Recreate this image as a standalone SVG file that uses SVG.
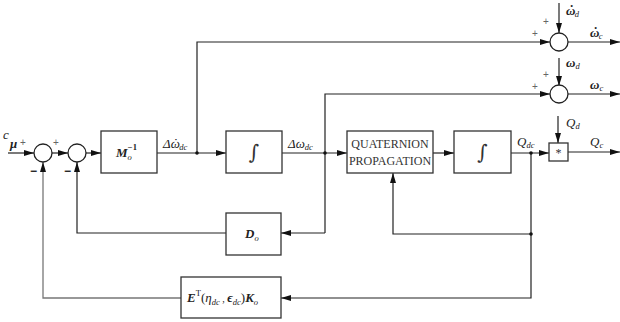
<svg xmlns="http://www.w3.org/2000/svg" width="620" height="322" viewBox="0 0 620 322">
<style>
.blk{fill:#fff;stroke:#333;stroke-width:1.3}
.sum{fill:#fff;stroke:#222;stroke-width:1.3}
.w{fill:none;stroke:#222;stroke-width:1.2}
.wg{fill:none;stroke:#777;stroke-width:1.3}
.t{font-family:"Liberation Serif","DejaVu Serif",serif;font-size:13px;font-style:italic;fill:#222}
.tb{font-family:"Liberation Serif","DejaVu Serif",serif;font-size:13px;font-style:italic;font-weight:bold;fill:#222}
.s{font-size:8.5px}
.up{font-family:"Liberation Serif",serif;font-size:12px;fill:#333}
.pm{font-family:"Liberation Sans",sans-serif;font-size:10px;fill:#666}
.mn{font-family:"Liberation Sans",sans-serif;font-size:12px;font-weight:bold;fill:#222}
.int{font-family:"DejaVu Serif",serif;font-size:20px;fill:#333}
</style>
<defs>
<marker id="a" viewBox="0 0 10 6" refX="10" refY="3" markerWidth="10" markerHeight="6" markerUnits="userSpaceOnUse" orient="auto">
<path d="M0,0 L10,3 L0,6 Z" fill="#111"/>
</marker>
</defs>
<g id="connectors">
<path class="w" d="M8,153 H34" marker-end="url(#a)"/>
<path class="w" d="M52,153 H68" marker-end="url(#a)"/>
<path class="w" d="M86,153 H101" marker-end="url(#a)"/>
<path class="w" d="M157,153 H226" marker-end="url(#a)"/>
<path class="w" d="M197,153 V42 H550" marker-end="url(#a)"/>
<path class="w" d="M282,153 H347" marker-end="url(#a)"/>
<path class="w" d="M325,233 V94 H550" marker-end="url(#a)"/>
<path class="w" d="M325,233 H281" marker-end="url(#a)"/>
<path class="w" d="M226,233 H77 V162" marker-end="url(#a)"/>
<path class="w" d="M433,153 H454" marker-end="url(#a)"/>
<path class="w" d="M511,153 H549" marker-end="url(#a)"/>
<path class="w" d="M531,153 V298 H281" marker-end="url(#a)"/>
<path class="w" d="M531,234 H393 V173" marker-end="url(#a)"/>
<path class="wg" d="M181,298 H43 V162" marker-end="url(#a)"/>
<path class="w" d="M559,3 V33" marker-end="url(#a)"/>
<path class="w" d="M568,42 H620" marker-end="url(#a)"/>
<path class="w" d="M559,58 V86" marker-end="url(#a)"/>
<path class="w" d="M568,94 H620" marker-end="url(#a)"/>
<path class="w" d="M558,116 V143" marker-end="url(#a)"/>
<path class="w" d="M568,152 H620" marker-end="url(#a)"/>
<circle cx="197" cy="153" r="1.8" fill="#111"/>
<circle cx="325" cy="153" r="1.8" fill="#111"/>
<circle cx="531" cy="153" r="1.8" fill="#111"/>
<circle cx="531" cy="234" r="1.8" fill="#111"/>
</g>
<g id="sum1"><circle class="sum" cx="43" cy="153" r="9"/></g>
<g id="sum2"><circle class="sum" cx="77" cy="153" r="9"/></g>
<g id="sum3"><circle class="sum" cx="559" cy="42" r="9"/></g>
<g id="sum4"><circle class="sum" cx="559" cy="94" r="9"/></g>
<g id="mult"><rect class="blk" x="549" y="143" width="19" height="18"/><text class="up" x="558.5" y="157" text-anchor="middle" font-size="10">*</text></g>
<g id="Minv"><rect class="blk" x="101" y="131" width="56" height="42"/>
<text class="tb" x="116" y="157">M<tspan class="s" dy="3" font-weight="normal">o</tspan><tspan class="s" dx="-4" dy="-10" font-style="normal">−1</tspan></text></g>
<g id="int1"><rect class="blk" x="226" y="131" width="56" height="42"/><text class="int" x="254" y="159" text-anchor="middle">∫</text></g>
<g id="quat"><rect class="blk" x="347" y="131" width="86" height="42"/>
<text class="up" x="390" y="148" text-anchor="middle">QUATERNION</text>
<text class="up" x="390" y="165" text-anchor="middle">PROPAGATION</text></g>
<g id="int2"><rect class="blk" x="454" y="131" width="57" height="42"/><text class="int" x="482.5" y="159" text-anchor="middle">∫</text></g>
<g id="Do"><rect class="blk" x="226" y="213" width="55" height="42"/><text class="tb" x="245" y="238">D<tspan class="s" dy="3" font-weight="normal">o</tspan></text></g>
<g id="EK"><rect class="blk" x="181" y="277" width="100" height="41"/>
<text class="tb" x="187" y="302">E<tspan class="s" dy="-6" font-weight="normal" font-style="normal">T</tspan><tspan dy="6" font-weight="normal" font-style="normal">(</tspan><tspan font-weight="normal">η</tspan><tspan class="s" dy="3" font-weight="normal">dc</tspan><tspan dy="-3" font-weight="normal" font-style="normal" font-size="10"> , </tspan>ϵ<tspan class="s" dy="3" font-weight="normal">dc</tspan><tspan dy="-3" font-weight="normal" font-style="normal">)</tspan>K<tspan class="s" dy="3" font-weight="normal">o</tspan></text></g>
<g id="labels">
<text class="t" x="3" y="139" font-size="9" font-style="normal">c</text>
<text class="tb" x="10" y="148">μ</text>
<text class="pm" x="20" y="146">+</text>
<text class="pm" x="53" y="146">+</text>
<text class="mn" x="30" y="175">−</text>
<text class="mn" x="64" y="175">−</text>
<text class="t" x="163" y="148">Δω<tspan dx="-6" dy="-1" font-style="normal">˙</tspan><tspan class="s" dx="1" dy="3">dc</tspan></text>
<text class="t" x="288" y="148">Δω<tspan class="s" dy="2">dc</tspan></text>
<text class="t" x="517" y="146">Q<tspan class="s" dy="2">dc</tspan></text>
<text class="t" x="566" y="127">Q<tspan class="s" dy="2">d</tspan></text>
<text class="t" x="590" y="146">Q<tspan class="s" dy="2">c</tspan></text>
<text class="tb" x="566" y="15">ω<tspan dx="-6" dy="-1" font-style="normal">˙</tspan><tspan class="s" dx="1" dy="3" font-weight="normal">d</tspan></text>
<text class="pm" x="543" y="25">+</text>
<text class="pm" x="532" y="37">+</text>
<text class="tb" x="590" y="37">ω<tspan dx="-6" dy="-1" font-style="normal">˙</tspan><tspan class="s" dx="1" dy="3" font-weight="normal">c</tspan></text>
<text class="tb" x="566" y="67">ω<tspan class="s" dy="2" font-weight="normal">d</tspan></text>
<text class="pm" x="543" y="78">+</text>
<text class="pm" x="532" y="90">+</text>
<text class="tb" x="590" y="89">ω<tspan class="s" dy="2" font-weight="normal">c</tspan></text>
</g>
</svg>
